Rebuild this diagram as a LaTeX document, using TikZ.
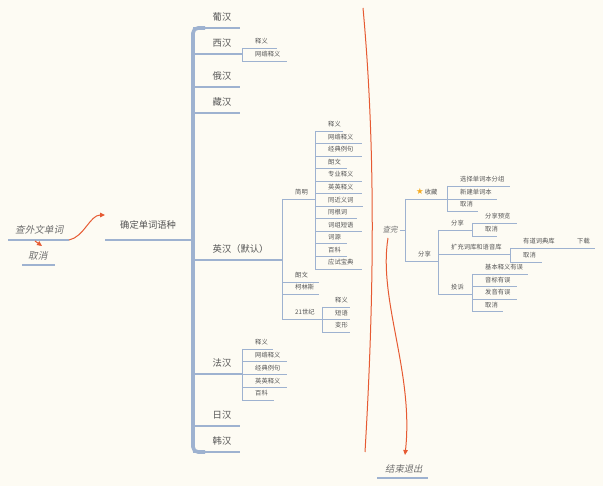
\documentclass[tikz,border=0pt]{standalone}
\usepackage{fontspec}
\usepackage{tikz}
\usetikzlibrary{arrows.meta, positioning, calc}
\newfontfamily\cjkfont{Noto Sans CJK SC}
\newfontfamily\cjkslant[FakeSlant=0.22]{Noto Sans CJK SC}
\newfontfamily\starfont{DejaVu Sans}
\definecolor{PaperCream}{RGB}{253,251,243}
\definecolor{BranchBlue}{RGB}{158,178,208}
\definecolor{InkGray}{RGB}{85,85,85}
\definecolor{SoftGray}{RGB}{110,110,110}
\definecolor{RelOrange}{RGB}{230,90,50}
\definecolor{StarGold}{RGB}{245,170,30}

% topic: name, line style, text style, x, y, line length, text
\newcommand{\tpc}[7]{%
  \coordinate (#1-l) at (#4,#5);
  \coordinate (#1-r) at ({#4+#6},#5);
  \draw[#2] (#1-l) -- (#1-r);
  \node[#3] (#1) at (#1-l) {#7};}

\begin{document}
\begin{tikzpicture}[x=1pt, y=-1pt,
	mainln/.style={BranchBlue, line width=1.7pt},
	itln/.style={BranchBlue, line width=1.3pt},
	subln/.style={BranchBlue, line width=0.9pt},
	trunk/.style={BranchBlue, line width=3.6pt, rounded corners=5pt},
	maintx/.style={anchor=base west, inner sep=0pt, shift={(19.5,-7.5)}, text=InkGray, font=\cjkfont\fontsize{9.3}{11}\selectfont},
	subtx/.style={anchor=base west, inner sep=0pt, shift={(13,-4.2)}, text=InkGray, font=\cjkfont\fontsize{6.3}{7.5}\selectfont},
	ittx/.style={anchor=base west, inner sep=0pt, shift={(7,-6)}, text=SoftGray, font=\cjkslant\fontsize{9.6}{11}\selectfont},
	rel/.style={RelOrange, line width=1pt},
	tip/.style={-{Triangle[length=5pt,width=4.5pt]}}]
	\fill[PaperCream] (0,0) rectangle (603,486);
	\useasboundingbox (0,0) rectangle (603,486);

	% start
	\tpc{cx}{mainln}{ittx}{8}{240}{61}{查外文单词}
	\tpc{qx}{itln}{ittx, shift={(-1,0.5)}}{22}{265}{33}{取消}
	\tpc{qd}{mainln}{maintx, shift={(-4.5,-4)}}{105}{240}{88}{确定单词语种}

	% languages
	\tpc{pu}{mainln}{maintx}{193}{28}{47}{葡汉}
	\tpc{xi}{mainln}{maintx}{193}{54}{49}{西汉}
	\tpc{eh}{mainln}{maintx}{193}{87}{47}{俄汉}
	\tpc{zh}{mainln}{maintx}{193}{113}{47}{藏汉}
	\tpc{yh}{mainln}{maintx}{193}{260}{89}{英汉（默认）}
	\tpc{fa}{mainln}{maintx}{193}{374}{49}{法汉}
	\tpc{ri}{mainln}{maintx}{193}{426}{47}{日汉}
	\tpc{hn}{mainln}{maintx}{193}{452}{47}{韩汉}
	\draw[trunk] ([shift={(12,0)}]pu-l) -- (pu-l) -- (hn-l) -- ([shift={(12,0)}]hn-l);

	% 西汉
	\tpc{xi1}{subln}{subtx}{242}{48}{35}{释义}
	\tpc{xi2}{subln}{subtx}{242}{61}{45}{网络释义}
	\draw[subln] (xi1-l) -- (xi2-l);

	% 英汉
	\tpc{jm}{subln}{subtx}{282}{199}{33}{简明}
	\tpc{lw}{subln}{subtx}{282}{282}{37}{朗文}
	\tpc{kl}{subln}{subtx}{282}{294}{37}{柯林斯}
	\tpc{sj}{subln}{subtx}{282}{319}{40}{21世纪}
	\draw[subln] (jm-l) -- (sj-l);
	\foreach \t/\w [count=\i from 0] in {释义/28, 网络释义/47, 经典例句/47, 朗文/32, 专业释义/47, 英英释义/47, 同近义词/48, 同根词/42, 词组短语/47, 词源/32, 百科/32, 应试宝典/47}
		{\tpc{jm\i}{subln}{subtx}{315}{131+12.55*\i}{\w}{\t}}
	\draw[subln] (jm0-l) -- (jm11-l);
	\tpc{sj1}{subln}{subtx}{322}{307}{28}{释义}
	\tpc{sj2}{subln}{subtx}{322}{319.5}{28}{短语}
	\tpc{sj3}{subln}{subtx}{322}{332}{28}{变形}
	\draw[subln] (sj1-l) -- (sj3-l);

	% 法汉
	\foreach \t/\w [count=\i from 0] in {释义/31, 网络释义/45, 经典例句/45, 英英释义/45, 百科/32}
		{\tpc{fa\i}{subln}{subtx}{242}{349+12.75*\i}{\w}{\t}}
	\draw[subln] (fa0-l) -- (fa4-l);

	% after lookup
	\node[anchor=center, inner sep=0pt, text=SoftGray, font=\cjkslant\fontsize{7.5}{9}\selectfont] (cw) at (390,230) {查完};
	\tpc{sc}{subln}{subtx, shift={(-2,0)}}{405}{199}{42}{{\starfont\fontsize{8.5}{9}\selectfont\textcolor{StarGold}{★}}\,收藏}
	\tpc{fx}{subln}{subtx}{405}{261}{33}{分享}
	\draw[subln] (sc-l) -- (fx-l);
	\draw[subln, shorten <=2pt] (cw.east) -- (cw.east -| sc-l);

	\tpc{sc1}{subln}{subtx}{447}{186}{63}{选择单词本分组}
	\tpc{sc2}{subln}{subtx}{447}{199}{50}{新建单词本}
	\tpc{sc3}{subln}{subtx}{447}{211}{31}{取消}
	\draw[subln] (sc1-l) -- (sc3-l);

	\tpc{fx1}{subln}{subtx}{438}{230}{34}{分享}
	\tpc{fx2}{subln}{subtx}{438}{254}{72}{扩充词库和语音库}
	\tpc{fx3}{subln}{subtx}{438}{294}{34}{投诉}
	\draw[subln] (fx1-l) -- (fx3-l);

	\tpc{yl}{subln}{subtx}{472}{223}{45}{分享预览}
	\tpc{yl2}{subln}{subtx}{472}{236}{25}{取消}
	\draw[subln] (yl-l) -- (yl2-l);

	\tpc{yd}{subln}{subtx}{510}{248}{55}{有道词典库}
	\tpc{xd}{subln}{subtx, shift={(-1,0)}}{565}{248}{30}{下载}
	\tpc{yd2}{subln}{subtx}{510}{262}{32}{取消}
	\draw[subln] (yd-l) -- (yd2-l);

	\foreach \t/\w [count=\i from 0] in {基本释义有误/56, 音标有误/45, 发音有误/45, 取消/31}
		{\tpc{ts\i}{subln}{subtx}{472}{274+12.6*\i}{\w}{\t}}
	\draw[subln] (ts0-l) -- (ts3-l);

	\tpc{js}{itln}{ittx, shift={(1,0)}, font=\cjkslant\fontsize{9.3}{11}\selectfont}{377}{478}{51}{结束退出}

	% relations
	\coordinate (rtop) at (363,8);
	\coordinate (rbot) at (365,452);
	\draw[rel] (rtop) .. controls (376,150) and (374,300) .. (rbot);
	\draw[rel, tip] (cx-r) .. controls (84,237) and (90,215) .. ([shift={(0,-25)}]qd-l);
	\draw[rel, tip] ([shift={(27,1)}]cx-l) -- ([shift={(20,-19)}]qx-l);
	\draw[rel, tip] ([shift={(-2,8)}]cw.center) .. controls (378,300) and (414,372) .. ([shift={(28,-23)}]js-l);
\end{tikzpicture}
\end{document}
